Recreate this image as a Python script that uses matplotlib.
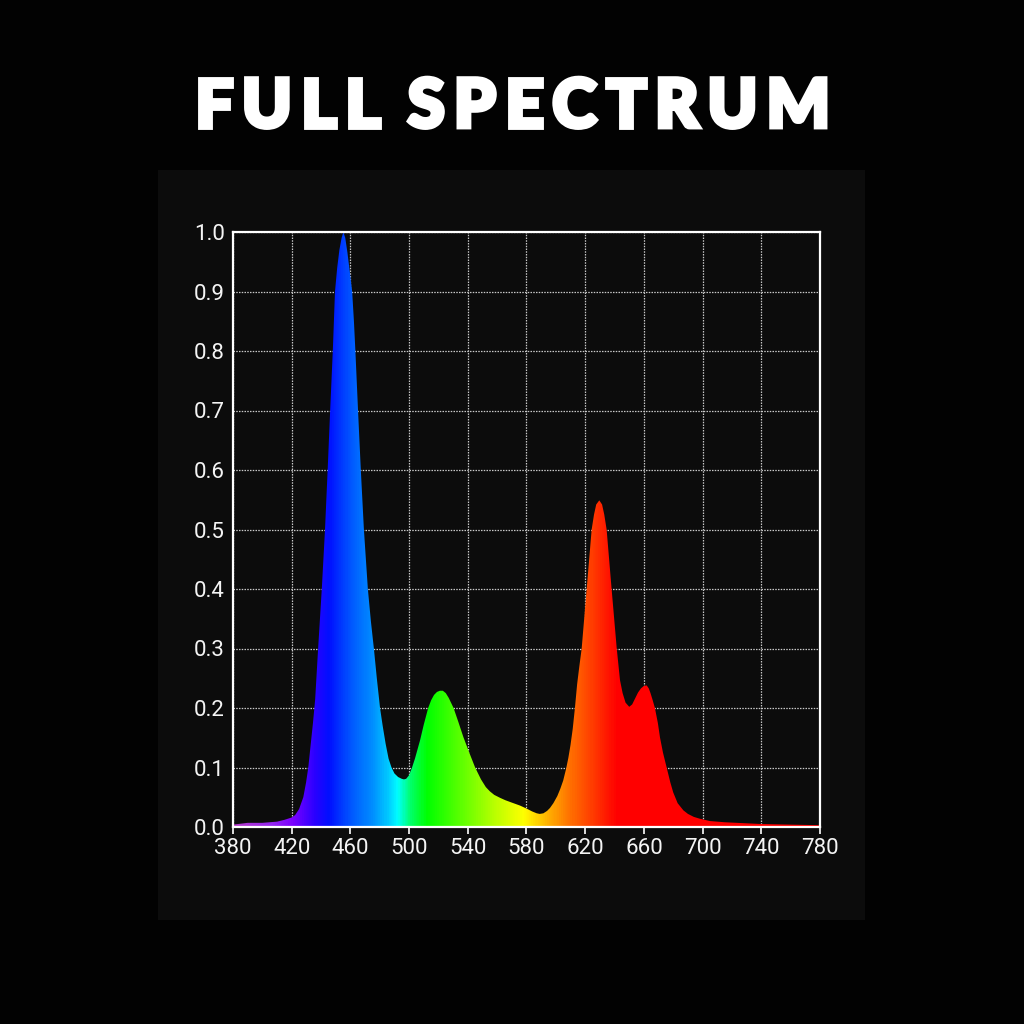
import matplotlib
matplotlib.use("Agg")
import matplotlib.pyplot as plt
import matplotlib.patches as patches
import matplotlib.patheffects as pe
from matplotlib.path import Path
from matplotlib.colors import LinearSegmentedColormap, to_rgb
import numpy as np


# Data

wavelength = [380, 390, 400, 410, 415, 420, 422.3, 425, 427.9, 429.8, 431.3, 433, 434.5, 436,
              438, 440.5, 442.7, 444.5, 446.2, 448, 449.5, 451, 452.5, 454, 455.2, 456.5,
              458, 459.5, 461.2, 462.4, 463.4, 465.2, 467.1, 469.2, 471.9, 474, 476, 478,
              480.2, 482, 484, 486, 488, 490, 492.5, 495, 496.5, 498, 500, 502, 504,
              507.5, 510, 513, 515, 517, 519, 521, 523, 525, 527, 530.3, 533.5, 537, 541,
              545, 549, 552.3, 555, 558, 562, 565.6, 570, 575.6, 580, 584, 587, 589,
              591.5, 594, 596, 598.3, 601, 603, 605, 607, 608.5, 610, 611.5, 613, 614.5,
              616, 617.6, 621, 624.4, 626, 627.5, 629.6, 631.5, 633, 634.6, 638, 641.5,
              643.7, 645.5, 647.5, 650, 652, 654, 656, 658, 660, 661.9, 663.3, 664.5,
              666, 667.5, 669.5, 671, 673, 675.5, 678, 680, 683, 686.9, 690, 694, 698,
              705, 715, 740, 780]
intensity = [0.004, 0.007, 0.007, 0.009, 0.012, 0.016, 0.02, 0.03, 0.05, 0.075, 0.1, 0.14,
             0.175, 0.215, 0.3, 0.4, 0.5, 0.6, 0.7, 0.8, 0.9, 0.94, 0.97, 0.99, 1.0, 0.99,
             0.965, 0.935, 0.9, 0.85, 0.8, 0.7, 0.6, 0.5, 0.4, 0.345, 0.3, 0.25, 0.2, 0.17,
             0.14, 0.115, 0.1, 0.09, 0.084, 0.081, 0.08, 0.081, 0.087, 0.1, 0.115, 0.146,
             0.172, 0.2, 0.213, 0.222, 0.227, 0.229, 0.229, 0.225, 0.217, 0.2, 0.177,
             0.151, 0.125, 0.1, 0.08, 0.067, 0.06, 0.054, 0.049, 0.045, 0.041, 0.036,
             0.031, 0.026, 0.023, 0.022, 0.023, 0.027, 0.032, 0.04, 0.052, 0.064, 0.078,
             0.098, 0.116, 0.138, 0.165, 0.2, 0.24, 0.27, 0.3, 0.4, 0.5, 0.525, 0.542,
             0.549, 0.542, 0.525, 0.5, 0.4, 0.3, 0.247, 0.225, 0.209, 0.202, 0.206, 0.216,
             0.226, 0.233, 0.237, 0.238, 0.233, 0.225, 0.213, 0.2, 0.175, 0.15, 0.125,
             0.1, 0.075, 0.058, 0.04, 0.028, 0.022, 0.017, 0.014, 0.01, 0.008, 0.005,
             0.003]

x_ticks = [380, 420, 460, 500, 540, 580, 620, 660, 700, 740, 780]
y_ticks = [0.0, 0.1, 0.2, 0.3, 0.4, 0.5, 0.6, 0.7, 0.8, 0.9, 1.0]
title = "FULL SPECTRUM"

# colour of light per wavelength
stop_nm = [380, 405, 420, 435, 445, 460, 475, 485, 492, 500, 512, 540, 560, 578, 595, 610, 625, 642, 780]
stop_col = ['#b43cc8', '#9628f0', '#7a00ff', '#2a00ff', '#0010ff', '#0058ff', '#0090ff', '#00c8ff',
            '#00ffff', '#00ff70', '#00ff00', '#70ff00', '#c0ff00', '#ffff00', '#ffb000', '#ff7000',
            '#ff3c00', '#ff0000', '#ff0000']


# Figur

fig = plt.figure(figsize=(10.24, 10.24), dpi=100, facecolor='#020202')

panel = patches.Rectangle((158 / 1024, 1 - 920 / 1024), (865 - 158) / 1024, (920 - 170) / 1024,
                          transform=fig.transFigure, facecolor='#0c0c0c', edgecolor='none', zorder=-5)
fig.patches.append(panel)

ax = fig.add_axes([233 / 1024, 1 - 827 / 1024, (820 - 233) / 1024, (827 - 232) / 1024])
ax.set_facecolor('#0c0c0c')

# Gradient klippt av kurvan
x0, x1 = stop_nm[0], stop_nm[-1]
pos = [(n - x0) / (x1 - x0) for n in stop_nm]
cmap = LinearSegmentedColormap.from_list('spec', list(zip(pos, [to_rgb(c) for c in stop_col])))
grad = cmap(np.linspace(0, 1, 800))[None, :, :]
im = ax.imshow(grad, extent=[380, 780, 0, 1], aspect='auto', interpolation='bilinear',
               origin='lower', zorder=2)

verts = [(wavelength[0], 0)] + list(zip(wavelength, intensity)) + [(wavelength[-1], 0), (wavelength[0], 0)]
codes = [Path.MOVETO] + [Path.LINETO] * (len(verts) - 2) + [Path.CLOSEPOLY]
shape = patches.PathPatch(Path(verts, codes), facecolor='none', edgecolor='none', transform=ax.transData)
ax.add_patch(shape)
im.set_clip_path(shape)

ax.set_xlim(380, 780)
ax.set_ylim(0, 1)
ax.set_xticks(x_ticks)
ax.set_yticks(y_ticks)
ax.set_yticklabels([f"{v:.1f}" for v in y_ticks])

ax.set_axisbelow(True)
ax.grid(True, color='#c8c8c8', linestyle=(0, (1.2, 1.0)), linewidth=0.9)

for s in ax.spines.values():
    s.set_color('white')
    s.set_linewidth(1.6)
    s.set_zorder(5)

ax.tick_params(axis='x', direction='out', length=5, width=1.2, color='white', pad=3,
               labelsize=16, labelcolor='#f4f4f4')
ax.tick_params(axis='y', length=0, pad=6, labelsize=16, labelcolor='#f4f4f4')
for lab in ax.get_xticklabels() + ax.get_yticklabels():
    lab.set_family(['Roboto', 'DejaVu Sans'])


# Titel med spärrning

fig.canvas.draw()
renderer = fig.canvas.get_renderer()
stroke = [pe.withStroke(linewidth=3.5, foreground='white', joinstyle='miter')]
tfont = dict(family=['Lato', 'DejaVu Sans'], fontweight='black', fontsize=48, color='white')
chars = [c for c in title]
widths = []
for c in chars:
    if c == ' ':
        widths.append(0)
        continue
    t = fig.text(0, 0, c, **tfont)
    widths.append(t.get_window_extent(renderer).width)
    t.remove()

left_px, right_px = 195, 830
n_gaps = len(chars) - 1
word_gaps = chars.count(' ')
# mellanslaget får tre luckor
gap = (right_px - left_px - sum(widths)) / (n_gaps + word_gaps * 1.0)
xp = left_px
for c, w in zip(chars, widths):
    if c == ' ':
        xp += 2 * gap
        continue
    fig.text(xp / 1024, 1 - 127 / 1024, c, ha='left', va='baseline', path_effects=stroke, **tfont)
    xp += w + gap

fig.savefig('out.png', dpi=100, facecolor=fig.get_facecolor())
